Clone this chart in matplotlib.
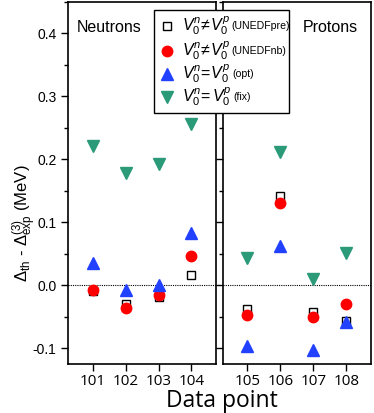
import matplotlib
matplotlib.use("Agg")
import matplotlib.pyplot as plt
from matplotlib.lines import Line2D
from matplotlib.patches import Rectangle
from matplotlib.ticker import MultipleLocator

plt.rcParams["font.family"] = ["Liberation Sans", "DejaVu Sans"]
plt.rcParams["mathtext.fontset"] = "custom"
plt.rcParams["mathtext.it"] = "Liberation Sans:italic"
plt.rcParams["mathtext.rm"] = "Liberation Sans"

# data points
neutron_x = [101, 102, 103, 104]
proton_x = [105, 106, 107, 108]

n_unedfpre = [-0.009, -0.029, -0.018, 0.017]
n_unedfnb = [-0.008, -0.036, -0.015, 0.047]
n_opt = [0.036, -0.007, 0.001, 0.083]
n_fix = [0.222, 0.179, 0.192, 0.256]

p_unedfpre = [-0.038, 0.142, -0.042, -0.056]
p_unedfnb = [-0.047, 0.130, -0.050, -0.029]
p_opt = [-0.097, 0.063, -0.102, -0.058]
p_fix = [0.044, 0.211, 0.010, 0.052]

math_labels = [
    r"$V_0^n\!\neq\!V_0^p$",
    r"$V_0^n\!\neq\!V_0^p$",
    r"$V_0^n\!=\!V_0^p$",
    r"$V_0^n$=$\,V_0^p$",
]
tag_labels = ["(UNEDFpre)", "(UNEDFnb)", "(opt)", "(fix)"]

BLUE = "#2241ff"
GREEN = "#2a9a78"
styles = [
    dict(marker="s", mfc="white", mec="black", ms=6, mew=1.0),
    dict(marker="o", mfc="#ff0000", mec="#ff0000", ms=7.5),
    dict(marker="^", mfc=BLUE, mec=BLUE, ms=8),
    dict(marker="v", mfc=GREEN, mec=GREEN, ms=8),
]

W, H = 374, 413
fig = plt.figure(figsize=(W / 100, H / 100), dpi=100)
ax1 = fig.add_axes([0.1826, 0.1186, 0.395, 0.8766])
ax2 = fig.add_axes([0.5955, 0.1186, 0.3965, 0.8766])

for ax, xs, series in [
    (ax1, neutron_x, [n_unedfpre, n_unedfnb, n_opt, n_fix]),
    (ax2, proton_x, [p_unedfpre, p_unedfnb, p_opt, p_fix]),
]:
    ax.axhline(0, color="black", ls=(0, (1, 1)), lw=0.8, zorder=1)
    for ys, st in zip(series, styles):
        ax.plot(xs, ys, ls="none", zorder=3, **st)
    ax.set_ylim(-0.125, 0.45)
    ax.set_xticks(xs)
    ax.tick_params(axis="x", direction="out", length=5, width=1, labelsize=11, pad=2)
    ax.yaxis.set_major_locator(MultipleLocator(0.1))
    ax.yaxis.set_minor_locator(MultipleLocator(0.05))
    ax.tick_params(axis="y", which="major", direction="out", length=5, width=1)
    ax.tick_params(axis="y", which="minor", direction="out", length=3, width=1)
    for s in ax.spines.values():
        s.set_linewidth(1.2)
    for t in ax.get_xticklabels():
        t.set_family(["Open Sans", "DejaVu Sans"])

ax1.set_xlim(100.25, 104.75)
ax2.set_xlim(104.25, 108.75)
ax1.tick_params(axis="y", labelsize=10)
ax1.yaxis.set_major_formatter(plt.FuncFormatter(lambda v, p: f"{v:.1f}".replace("-0.0", "0.0")))
ax2.tick_params(axis="y", labelleft=False)

ax1.text(0.06, 0.93, "Neutrons", transform=ax1.transAxes, fontsize=11.5, va="center")
ax2.text(0.54, 0.93, "Protons", transform=ax2.transAxes, fontsize=11.5, va="center")

fig.text(0.067, 0.46, r"$\Delta_{\rm th}$ - $\Delta_{\rm exp}^{(3)}$ (MeV)",
         rotation=90, fontsize=12, ha="center", va="center")
fig.text(0.593, 0.028, "Data point", fontsize=16.5, ha="center", va="center",
         family=["Open Sans", "DejaVu Sans"])

# legend box spanning both panels
fig.add_artist(Rectangle((154 / W, 1 - 113 / H), 135 / W, 103 / H,
                         transform=fig.transFigure, facecolor="white",
                         edgecolor="black", lw=1.0, zorder=5))
row_y = [26, 51, 74, 97]
renderer = fig.canvas.get_renderer()
for y, st, ml, tl in zip(row_y, styles, math_labels, tag_labels):
    fy = 1 - y / H
    fig.add_artist(Line2D([167 / W], [fy], transform=fig.transFigure, ls="none",
                          zorder=6, **st))
    t = fig.text(182 / W, fy, ml, fontsize=11.5, va="center", ha="left", zorder=6)
    x1 = t.get_window_extent(renderer).x1
    fig.text((x1 + 2) / W, fy, tl, fontsize=7.6, va="center", ha="left", zorder=6)

fig.savefig("out.png", dpi=100)
